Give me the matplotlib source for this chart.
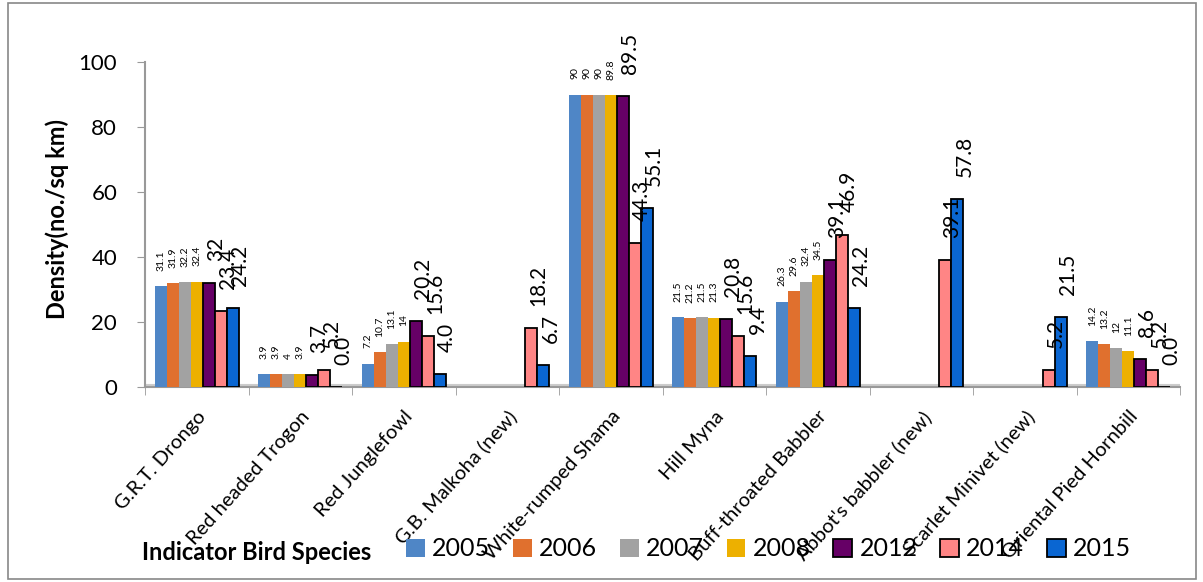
import numpy as np
import matplotlib
matplotlib.use("Agg")
import matplotlib.pyplot as plt
from matplotlib.patches import Patch, Rectangle

plt.rcParams['font.family'] = ['Lato', 'DejaVu Sans']

species = ["G.R.T. Drongo", "Red headed Trogon", "Red Junglefowl", "G.B. Malkoha (new)",
           "White-rumped Shama", "Hill Myna", "Buff-throated Babbler",
           "Abbot's babbler (new)", "Scarlet Minivet (new)", "Oriental Pied Hornbill"]
years = ["2005", "2006", "2007", "2008", "2012", "2014", "2015"]

nan = np.nan
d2005 = [31.1, 3.9, 7.2, nan, 90, 21.5, 26.3, nan, nan, 14.2]
d2006 = [31.9, 3.9, 10.7, nan, 90, 21.2, 29.6, nan, nan, 13.2]
d2007 = [32.2, 4, 13.1, nan, 90, 21.5, 32.4, nan, nan, 12]
d2008 = [32.4, 3.9, 14, nan, 89.8, 21.3, 34.5, nan, nan, 11.1]
d2012 = [32, 3.7, 20.2, nan, 89.5, 20.8, 39.1, nan, nan, 8.6]
d2014 = [23.4, 5.2, 15.6, 18.2, 44.3, 15.6, 46.9, 39.1, 5.2, 5.2]
d2015 = [24.2, 0.0, 4.0, 6.7, 55.1, 9.4, 24.2, 57.8, 21.5, 0.0]
series = [d2005, d2006, d2007, d2008, d2012, d2014, d2015]

colors = ["#4F86C6", "#E0702E", "#A2A2A2", "#EDB000", "#660066", "#FF8585", "#0A66D2"]
outlined = [False, False, False, False, True, True, True]
label_fmt = ["{:g}"] * 6 + ["{:.1f}"]

fig = plt.figure(figsize=(12.03, 5.82), dpi=100)
ax = fig.add_axes([145 / 1203, 1 - 387 / 582, (1180 - 145) / 1203, (387 - 62) / 582])

x = np.arange(len(species))
w = 0.116
for i, (yr, vals, col, edge, fmt) in enumerate(zip(years, series, colors, outlined, label_fmt)):
    vals = np.array(vals, dtype=float)
    ok = ~np.isnan(vals)
    xs = x[ok] + (i - 3) * w
    ax.bar(xs, vals[ok], width=w, color=col,
           edgecolor="black" if edge else "none", linewidth=1.3, zorder=3)
    for xb, v in zip(xs, vals[ok]):
        if edge:
            ax.annotate(fmt.format(v), (xb, v), xytext=(-2, 16), textcoords="offset points",
                        rotation=90, ha="left", va="bottom", fontsize=15, zorder=5)
        else:
            ax.annotate(fmt.format(v), (xb, v), xytext=(0, 11), textcoords="offset points",
                        rotation=90, ha="center", va="bottom", fontsize=7.5, zorder=5)

ax.set_xlim(-0.5, len(species) - 0.5)
ax.set_ylim(0, 100)
ax.set_yticks(np.arange(0, 101, 20))
ax.set_xticks(x)
ax.set_xticklabels(species, rotation=48, ha="right", rotation_mode="anchor", fontsize=14.5)
ax.set_xticks(np.arange(-0.5, len(species), 1), minor=True)
ax.tick_params(axis="x", which="major", length=0, pad=15)
ax.tick_params(axis="x", which="minor", length=6, color="#999999")
ax.tick_params(axis="y", length=6, color="#999999", labelsize=16, pad=14)
for s in ["top", "right"]:
    ax.spines[s].set_visible(False)
for s in ["left", "bottom"]:
    ax.spines[s].set_color("#999999")
    ax.spines[s].set_linewidth(1.5)
ax.axhline(0.6, color="#CCCCCC", lw=1.5, zorder=2)

fig.text(57 / 1203, 1 - 219 / 582, "Density(no./sq km)", rotation=90, fontweight="bold",
         fontsize=17, ha="center", va="center")
fig.text(142 / 1203, 1 - 553 / 582, "Indicator Bird Species", fontweight="bold",
         fontsize=17, ha="left", va="center")

handles = [Patch(facecolor=c, edgecolor="black" if e else "none", linewidth=1.3)
           for c, e in zip(colors, outlined)]
fig.legend(handles, years, ncol=7, loc="center left",
           bbox_to_anchor=(406 / 1203, 1 - 549 / 582), frameon=False, fontsize=18,
           handlelength=0.75, handleheight=0.75, handletextpad=0.3, columnspacing=0.9,
           borderaxespad=0, borderpad=0)

fig.patches.append(Rectangle((8 / 1203, 3 / 582), 1188 / 1203, 576 / 582,
                             transform=fig.transFigure, fill=False,
                             edgecolor="#888888", linewidth=1.2))

fig.savefig("out.png", dpi=100)
